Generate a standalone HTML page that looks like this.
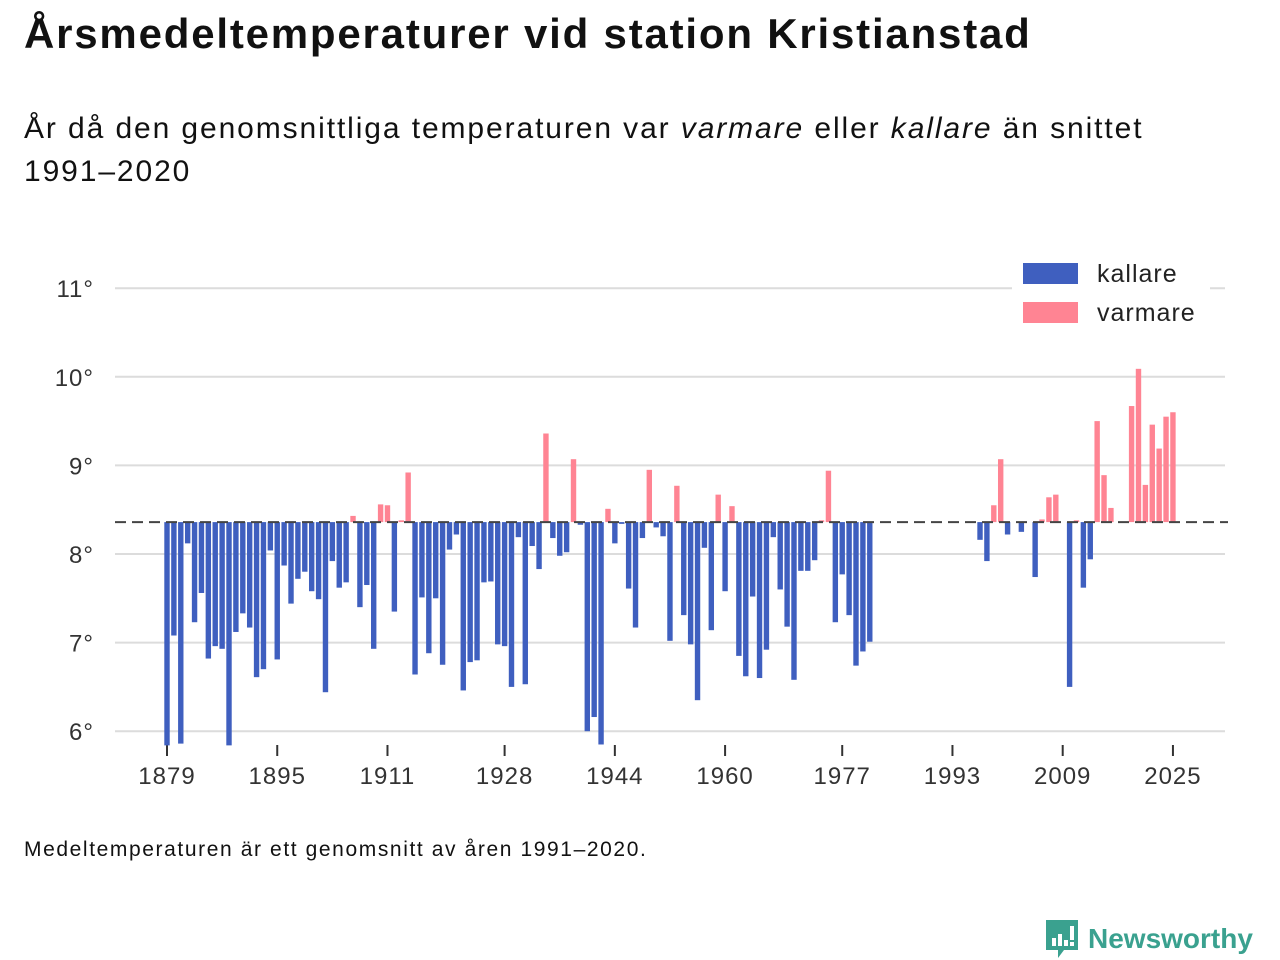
<!DOCTYPE html>
<html><head><meta charset="utf-8">
<style>
body{margin:0;width:1280px;height:960px;background:#fff;font-family:"Liberation Sans","DejaVu Sans",sans-serif;color:#111;position:relative;overflow:hidden}
#title{position:absolute;left:24px;top:10px;font-size:42px;font-weight:bold;margin:0;letter-spacing:1.8px}
#subtitle{position:absolute;left:24px;top:107px;font-size:30px;line-height:43px;margin:0;width:1170px;letter-spacing:1.9px}
#note{position:absolute;left:24px;top:838px;font-size:21px;letter-spacing:1.6px}
#chart{position:absolute;left:0;top:0}
#logo{position:absolute;left:1044px;top:918px;display:flex;align-items:center}
</style></head><body>
<h1 id="title">Årsmedeltemperaturer vid station Kristianstad</h1>
<p id="subtitle">År då den genomsnittliga temperaturen var <i>varmare</i> eller <i>kallare</i> än snittet 1991–2020</p>
<svg id="chart" width="1280" height="960"></svg>
<div id="note">Medeltemperaturen är ett genomsnitt av åren 1991–2020.</div>
<div id="logo">
<svg width="36" height="42" viewBox="0 0 36 42"><path d="M2 2h32v30H20l-6 8v-8H2z" fill="#3aa18f"/><rect x="8" y="20" width="4" height="8" fill="#fff"/><rect x="14" y="16" width="4" height="12" fill="#fff"/><rect x="20" y="22" width="4" height="6" fill="#fff"/><rect x="26" y="8" width="4" height="14" fill="#fff"/><rect x="26" y="24" width="4" height="4" fill="#fff"/></svg>
<span style="color:#3aa18f;font-size:28px;font-weight:bold;margin-left:8px">Newsworthy</span>
</div>
<script>
const years=[1879,1880,1881,1882,1883,1884,1885,1886,1887,1888,1889,1890,1891,1892,1893,1894,1895,1896,1897,1898,1899,1900,1901,1902,1903,1904,1905,1906,1907,1908,1909,1910,1911,1912,1913,1914,1915,1916,1917,1918,1919,1920,1921,1922,1923,1924,1925,1926,1927,1928,1929,1930,1931,1932,1933,1934,1935,1936,1937,1938,1939,1940,1941,1942,1943,1944,1945,1946,1947,1948,1949,1950,1951,1952,1953,1954,1955,1956,1957,1958,1959,1960,1961,1962,1963,1964,1965,1966,1967,1968,1969,1970,1971,1972,1973,1974,1975,1976,1977,1978,1979,1980,1981,1997,1998,1999,2000,2001,2003,2005,2006,2007,2008,2010,2011,2012,2013,2014,2015,2016,2019,2020,2021,2022,2023,2024,2025];
const temps=[5.84,7.08,5.86,8.12,7.23,7.56,6.82,6.96,6.93,5.84,7.12,7.33,7.17,6.61,6.70,8.04,6.81,7.87,7.44,7.72,7.80,7.58,7.49,6.44,7.92,7.62,7.68,8.43,7.40,7.65,6.93,8.56,8.55,7.35,8.38,8.92,6.64,7.51,6.88,7.50,6.75,8.05,8.22,6.46,6.78,6.80,7.68,7.69,6.98,6.96,6.50,8.19,6.53,8.09,7.83,9.36,8.18,7.98,8.02,9.07,8.33,6.00,6.16,5.85,8.51,8.12,8.34,7.61,7.17,8.18,8.95,8.30,8.20,7.02,8.77,7.31,6.98,6.35,8.07,7.14,8.67,7.58,8.54,6.85,6.62,7.52,6.60,6.92,8.19,7.60,7.18,6.58,7.81,7.81,7.93,8.38,8.94,7.23,7.77,7.31,6.74,6.90,7.01,8.16,7.92,8.55,9.07,8.22,8.25,7.74,8.39,8.64,8.67,6.50,8.38,7.62,7.94,9.50,8.89,8.52,9.67,10.09,8.78,9.46,9.19,9.55,9.60];
const mean=[8.36];
const yTicks=[6,7,8,9,10,11];
const xTicks=[1879,1895,1911,1928,1944,1960,1977,1993,2009,2025];
const NS='http://www.w3.org/2000/svg';
const svg=document.getElementById('chart');
const x=yr=>167+(yr-1879)*6.89;
const y=v=>554-(v-8)*88.6;
function mk(t,a){const e=document.createElementNS(NS,t);for(const k in a)e.setAttribute(k,a[k]);svg.appendChild(e);return e;}
yTicks.forEach(t=>{
 const g=mk('line',{x1:115,x2:1225,y1:y(t),y2:y(t),stroke:'#dcdcdc','stroke-width':2});
 
 
 const l=mk('text',{x:94,y:y(t)+9,'text-anchor':'end','font-size':24,fill:'#333','font-family':'Liberation Sans, sans-serif','letter-spacing':1});
 l.textContent=t+'°';
 
 
});
xTicks.forEach(t=>{
 const k=mk('line',{x1:x(t),x2:x(t),y1:745,y2:756,stroke:'#333','stroke-width':2});
 
 
 const l=mk('text',{x:x(t),y:784,'text-anchor':'middle','font-size':24,fill:'#333','font-family':'Liberation Sans, sans-serif','letter-spacing':1});
 l.textContent=t;
 
 
});
years.forEach((yr,i)=>{
 const v=temps[i],m=mean[0];
 const y0=y(Math.max(v,m)),y1=y(Math.min(v,m));
 const b=mk('rect',{x:x(yr)-2.7,y:y0,width:5.4,height:Math.max(1,y1-y0),fill:v>=m?'#ff8493':'#3f5fbf'});
 
 
});
const ml=mk('line',{x1:115,x2:1228,y1:y(mean[0]),y2:y(mean[0]),stroke:'#444','stroke-width':2,'stroke-dasharray':'11 6'});


const lb=mk('rect',{x:1012,y:252,width:198,height:80,fill:'#fff'});


[['kallare','#3f5fbf',263],['varmare','#ff8493',302]].forEach(([n,c,yy])=>{
 const r=mk('rect',{x:1023,y:yy,width:55,height:21,fill:c});
 
 
 const t=mk('text',{x:1097,y:yy+19,'font-size':25,fill:'#222','font-family':'Liberation Sans, sans-serif','letter-spacing':1});
 t.textContent=n;
 
 
});
</script>
</body></html>
